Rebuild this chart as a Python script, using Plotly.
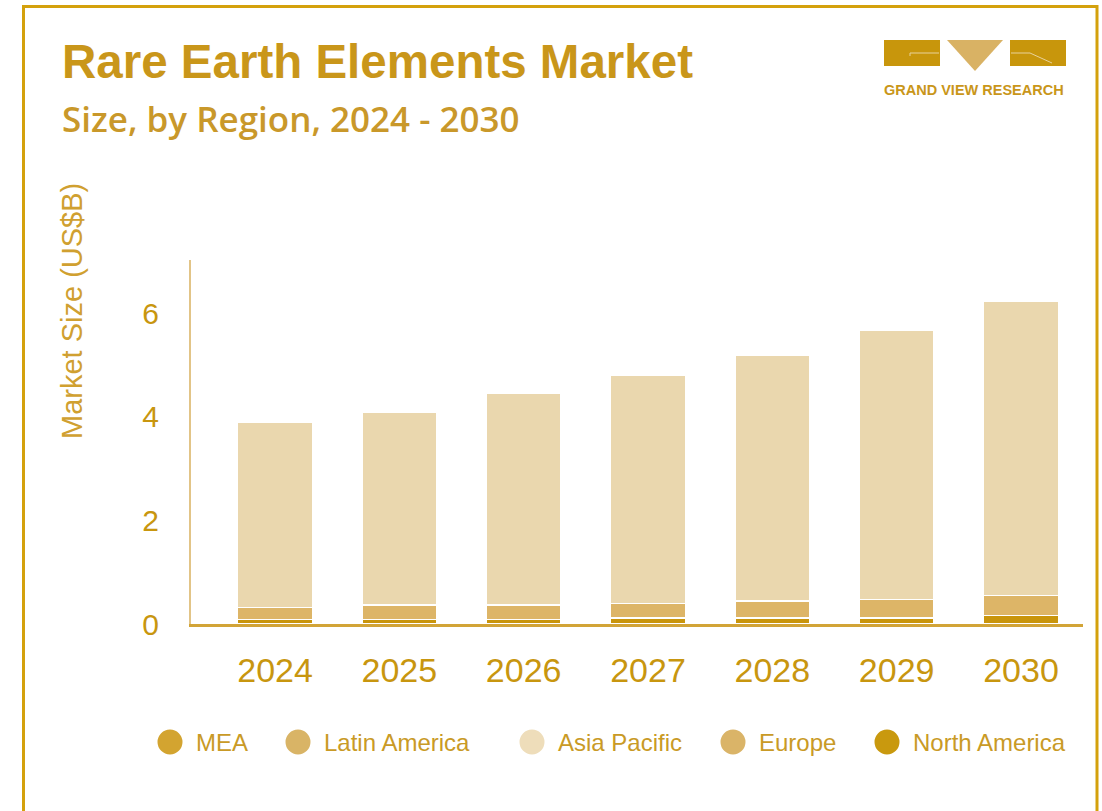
import plotly.graph_objects as go

# ---------------- data ----------------
years = ["2024", "2025", "2026", "2027", "2028", "2029", "2030"]
north_america = [0.09, 0.09, 0.09, 0.12, 0.12, 0.12, 0.16]
europe = [0.23, 0.28, 0.28, 0.28, 0.32, 0.35, 0.39]
asia_pacific = [3.58, 3.72, 4.09, 4.40, 4.74, 5.21, 5.68]
latin_america = [0, 0, 0, 0, 0, 0, 0]
mea = [0, 0, 0, 0, 0, 0, 0]
total_labels = ["$3.9", "$4.2", "", "", "", "", "$6.3"]
y_ticks = [0, 2, 4, 6]
legend_names = ["MEA", "Latin America", "Asia Pacific", "Europe", "North America"]

# ---------------- styling ----------------
W, H = 1102, 811
L, R, T, B = 191, 1083, 260, 624


def px(x):
    return (x - L) / (R - L)


def py(y):
    return (B - y) / (B - T)


GOLD = "#C8960F"
colors = {
    "North America": "#C9950C",
    "Europe": "#DDB567",
    "Asia Pacific": "#EAD7AE",
    "Latin America": "#D9B466",
    "MEA": "#D4A32C",
}
legend_colors = {
    "MEA": "#D3A430",
    "Latin America": "#D9B466",
    "Asia Pacific": "#EEDDBA",
    "Europe": "#DAB468",
    "North America": "#C9990E",
}

series = [
    ("North America", north_america),
    ("Europe", europe),
    ("Asia Pacific", asia_pacific),
    ("Latin America", latin_america),
    ("MEA", mea),
]

fig = go.Figure()
for name, vals in series:
    fig.add_trace(go.Bar(
        x=years, y=vals, name=name,
        marker=dict(color=colors[name],
                    line=dict(color="white", width=1.5 if max(vals) > 0 else 0)),
        width=0.6, showlegend=False,
        hovertemplate=name + " %{x}: %{y}<extra></extra>",
    ))

totals = [a + b + c + d + e for a, b, c, d, e in
          zip(north_america, europe, asia_pacific, latin_america, mea)]

annotations = []
for yr, tot, lab in zip(years, totals, total_labels):
    if lab:
        annotations.append(dict(
            x=yr, y=tot, xref="x", yref="y", text=lab, showarrow=False,
            yanchor="middle", yshift=38,
            font=dict(family="Liberation Sans, Arial", size=31, color=GOLD),
        ))

# Title & subtitle
annotations.append(dict(
    x=px(60), y=py(62), xref="paper", yref="paper", xanchor="left", yanchor="middle",
    text="Rare Earth Elements Market", showarrow=False,
    font=dict(family="Liberation Sans, Arial", size=47.5, color="#C9961A", weight="bold"),
))
annotations.append(dict(
    x=px(60), y=py(118), xref="paper", yref="paper", xanchor="left", yanchor="middle",
    text="Size, by Region, 2024 - 2030", showarrow=False,
    font=dict(family="Open Sans", size=35, color="#C9982A", weight=600),
))
# Y-axis title
annotations.append(dict(
    x=px(72), y=py(311), xref="paper", yref="paper", xanchor="center", yanchor="middle",
    text="Market Size (US$B)", showarrow=False, textangle=-90,
    font=dict(family="Liberation Sans, Arial", size=29, color="#D0A030"),
))
# Logo text
annotations.append(dict(
    x=px(974), y=py(89.5), xref="paper", yref="paper", xanchor="center", yanchor="middle",
    text="GRAND VIEW RESEARCH", showarrow=False,
    font=dict(family="Liberation Sans, Arial", size=14.5, color="#C9961A", weight="bold"),
))

shapes = []
# Outer frame
shapes.append(dict(type="rect", xref="paper", yref="paper",
                   x0=px(23.5), x1=px(1097), y0=py(830), y1=py(6.5),
                   line=dict(color="#D4A10C", width=3), fillcolor="rgba(0,0,0,0)", layer="below"))
# Logo shapes
shapes.append(dict(type="rect", xref="paper", yref="paper",
                   x0=px(884), x1=px(940), y0=py(66), y1=py(40),
                   line=dict(width=0), fillcolor="#C8960C"))
shapes.append(dict(type="path", xref="paper", yref="paper",
                   path=f"M {px(947)} {py(40)} L {px(1003)} {py(40)} L {px(975)} {py(71)} Z",
                   line=dict(width=0), fillcolor="#D9B264"))
shapes.append(dict(type="rect", xref="paper", yref="paper",
                   x0=px(1010), x1=px(1066), y0=py(66), y1=py(40),
                   line=dict(width=0), fillcolor="#C8960C"))
shapes.append(dict(type="path", xref="paper", yref="paper",
                   path=f"M {px(939)} {py(53)} L {px(910)} {py(53)} L {px(910)} {py(56)}",
                   line=dict(color="#E8D29A", width=1)))
shapes.append(dict(type="path", xref="paper", yref="paper",
                   path=f"M {px(1011)} {py(53)} L {px(1030)} {py(53)} L {px(1052)} {py(63)}",
                   line=dict(color="#E8D29A", width=1)))

# Manual legend (large circle markers)
legend_x = [170, 298, 532, 733, 887]
for name, cx in zip(legend_names, legend_x):
    r = 12.5
    shapes.append(dict(type="circle", xref="paper", yref="paper",
                       x0=px(cx - r), x1=px(cx + r), y0=py(742 + r), y1=py(742 - r),
                       line=dict(width=0), fillcolor=legend_colors[name]))
    annotations.append(dict(
        x=px(cx + 24), y=py(742), xref="paper", yref="paper", xanchor="left", yanchor="middle",
        text=name, showarrow=False,
        font=dict(family="Liberation Sans, Arial", size=24, color="#C99A26"),
    ))

fig.update_layout(
    width=W, height=H, autosize=False,
    margin=dict(l=L, r=W - R, t=T, b=H - B, pad=0),
    paper_bgcolor="white", plot_bgcolor="white",
    barmode="stack", bargap=0.4,
    showlegend=False,
    annotations=annotations, shapes=shapes,
    xaxis=dict(
        type="category", range=[-0.676, 6.499],
        showgrid=False, zeroline=False,
        showline=True, linecolor="#D2A437", linewidth=2.5,
        ticks="", ticklabelstandoff=14,
        tickfont=dict(family="Liberation Sans, Arial", size=34, color=GOLD),
    ),
    yaxis=dict(
        range=[0, (B - T) / 51.8], showgrid=False, zeroline=False,
        showline=True, linecolor="#E2C487", linewidth=2,
        tickmode="array", tickvals=y_ticks, ticktext=[str(v) for v in y_ticks],
        ticks="", ticklabelstandoff=24,
        tickfont=dict(family="Liberation Sans, Arial", size=30, color=GOLD),
    ),
)

fig.write_html("out.html")
